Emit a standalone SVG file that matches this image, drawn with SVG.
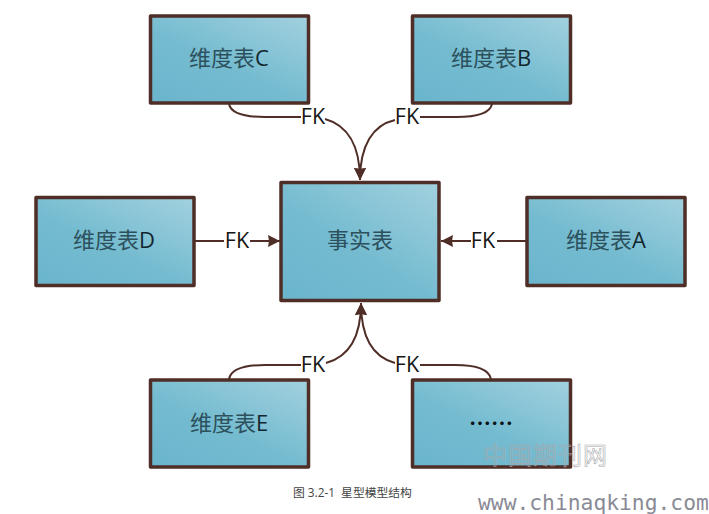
<svg xmlns="http://www.w3.org/2000/svg" width="709" height="514" viewBox="0 0 709 514">
<style>
.box{fill:url(#g);stroke:#4f2e27;stroke-width:3.500;stroke-linejoin:round}
.t{font-family:"Open Sans","Noto Sans CJK SC",sans-serif;font-size:22px;fill:#2c505c;text-anchor:middle}
.l{fill:#12262d;font-weight:500}
.fk{font-family:"Open Sans",sans-serif;font-size:21.500px;fill:#161616;text-anchor:middle}
.c{fill:none;stroke:#4f2e27;stroke-width:2}
.wm{fill:none;stroke:#a8a8ad;stroke-width:.6;font-family:"Noto Sans CJK SC",sans-serif;font-size:24px;letter-spacing:1px}
</style>
<defs>
<linearGradient id="g" x1="1" y1="0" x2="0.15" y2="1">
<stop offset="0" stop-color="#a2d1df"/><stop offset=".6" stop-color="#74bbd0"/><stop offset="1" stop-color="#6cb6cd"/>
</linearGradient>
<marker id="a" viewBox="0 0 12 12" refX="12" refY="6" markerWidth="12" markerHeight="12" markerUnits="userSpaceOnUse" orient="auto">
<path d="M0 0L12 6L0 12L1 6Z" fill="#4f2e27"/>
</marker>
</defs>
<rect width="709" height="514" fill="#fff"/>
<g id="connectors">
<path class="c" d="M229 104C231 114 245 117 265 117H301"/>
<path class="c" marker-end="url(#a)" d="M325 119C347 125 360 145 360 180"/>
<path class="c" d="M492 104C490 114 476 117 456 117H420"/>
<path class="c" marker-end="url(#a)" d="M395 120C373 125 360 145 360 180"/>
<path class="c" d="M195 241H224"/>
<path class="c" marker-end="url(#a)" d="M250 241H280"/>
<path class="c" d="M527 241H497"/>
<path class="c" marker-end="url(#a)" d="M471 241H441"/>
<path class="c" d="M229 379C231 369 245 365 265 365H301"/>
<path class="c" marker-end="url(#a)" d="M326 363C348 357 361 338 361 303"/>
<path class="c" d="M491 379C489 369 475 365 455 365H420"/>
<path class="c" marker-end="url(#a)" d="M395 363C373 357 361 338 361 303"/>
</g>
<g id="node-c"><rect class="box" x="150.500" y="16" width="158" height="87"/><text class="t" x="229" y="66">维度表<tspan class="l">C</tspan></text></g>
<g id="node-b"><rect class="box" x="412.500" y="16" width="158" height="87"/><text class="t" x="491" y="66">维度表<tspan class="l">B</tspan></text></g>
<g id="node-fact"><rect class="box" x="281" y="182.500" width="158" height="118"/><text class="t" x="360" y="248">事实表</text></g>
<g id="node-d"><rect class="box" x="36" y="197.500" width="158" height="88"/><text class="t" x="114" y="248">维度表<tspan class="l">D</tspan></text></g>
<g id="node-a"><rect class="box" x="527" y="197.500" width="158" height="88"/><text class="t" x="606" y="248">维度表<tspan class="l">A</tspan></text></g>
<g id="node-e"><rect class="box" x="150.500" y="380" width="158" height="87"/><text class="t" x="229" y="431">维度表<tspan class="l">E</tspan></text></g>
<g id="node-more"><rect class="box" x="412.500" y="380" width="158" height="87"/><text x="469" y="431" font-family="'Noto Sans CJK SC',sans-serif" font-size="22" font-weight="700" fill="#0c1418">……</text></g>
<g id="fk-labels">
<text class="fk" x="313" y="124">FK</text>
<text class="fk" x="407" y="124">FK</text>
<text class="fk" x="237" y="248">FK</text>
<text class="fk" x="483" y="248">FK</text>
<text class="fk" x="313" y="372">FK</text>
<text class="fk" x="407" y="372">FK</text>
</g>
<text x="293" y="497" font-family="'Open Sans','Noto Sans CJK SC',sans-serif" font-size="11.800" fill="#444" style="white-space:pre">图 3.2-1  星型模型结构</text>
<text class="wm" x="483" y="464">中国期刊网</text>
<text x="478" y="510" font-family="'DejaVu Sans Mono',monospace" font-size="21.300" fill="#8a8a96">www.chinaqking.com</text>
</svg>
